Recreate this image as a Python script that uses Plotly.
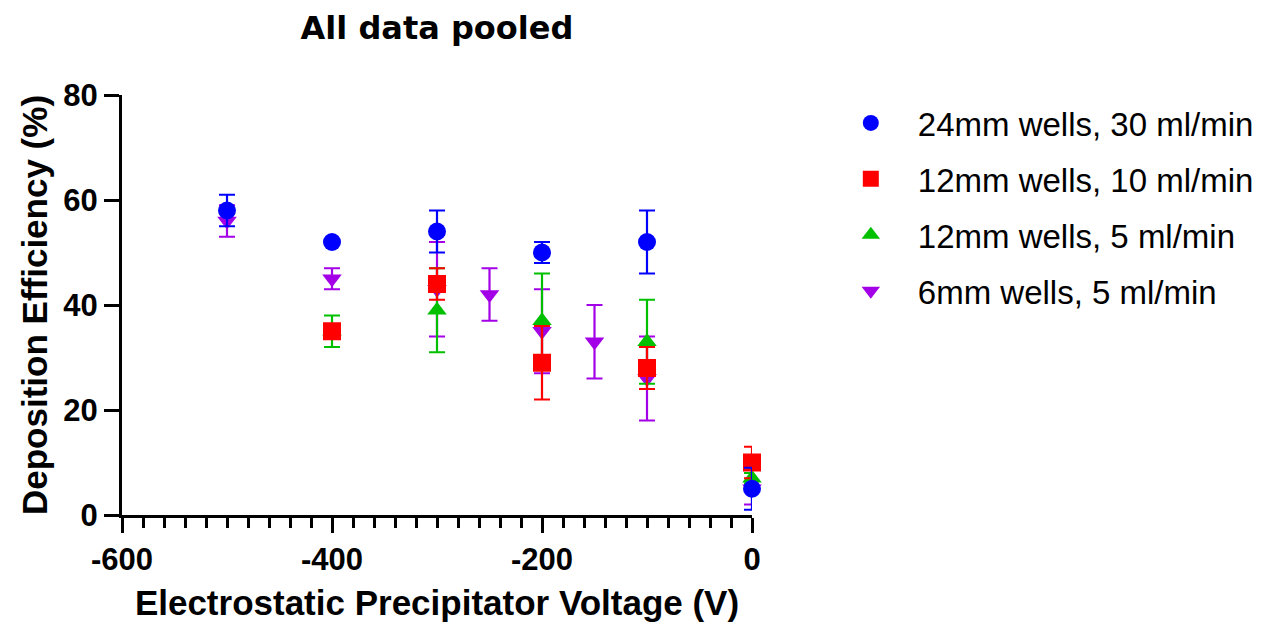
import plotly.graph_objects as go

# ---- data ----
voltage_24_30 = [-500, -400, -300, -200, -100, 0]
eff_24_30 = [58, 52, 54, 50, 52, 5]
err_24_30 = [3, 0, 4, 2, 6, 4]

voltage_12_10 = [-400, -300, -200, -100, 0]
eff_12_10 = [35, 44, 29, 28, 10]
err_12_10 = [1, 3, 7, 4, 3]

voltage_12_5 = [-400, -300, -200, -100, 0]
eff_12_5 = [35, 39, 37, 33, 7]
err_12_5 = [3, 8, 9, 8, 1]

voltage_6_5 = [-500, -400, -300, -250, -200, -150, -100, 0]
eff_6_5 = [56, 45, 43, 42, 35, 33, 26, 5]
err_6_5 = [3, 2, 9, 5, 8, 7, 8, 3]

series_names = ["24mm wells, 30 ml/min", "12mm wells, 10 ml/min",
                "12mm wells, 5 ml/min", "6mm wells, 5 ml/min"]
x_ticks = [-600, -400, -200, 0]
y_ticks = [0, 20, 40, 60, 80]

BLUE = "#0000FF"
RED = "#FF0000"
GREEN = "#00C000"
PURPLE = "#A300E8"

fig = go.Figure()

def add(x, y, e, name, color, symbol, size, rank):
    fig.add_trace(go.Scatter(
        x=x, y=y, mode="markers", name=name, legendgroup=name, legendrank=rank,
        marker=dict(color=color, symbol=symbol, size=size, line=dict(width=0)),
        error_y=dict(type="data", array=e, visible=True, color=color,
                     thickness=2.2, width=8),
        cliponaxis=False,
    ))

# drawing order bottom -> top: purple, green, red, blue
add(voltage_6_5, eff_6_5, err_6_5, series_names[3], PURPLE, "triangle-down", 17, 4)
add(voltage_12_5, eff_12_5, err_12_5, series_names[2], GREEN, "triangle-up", 17, 3)
add(voltage_12_10, eff_12_10, err_12_10, series_names[1], RED, "square", 18, 2)
add(voltage_24_30, eff_24_30, err_24_30, series_names[0], BLUE, "circle", 18, 1)

tick_font = dict(family="Liberation Sans", size=31, color="black")

fig.update_layout(
    width=1268, height=625,
    margin=dict(l=122, r=516, t=95, b=110, autoexpand=False),
    paper_bgcolor="white", plot_bgcolor="white",
    title=dict(text="<b>All data pooled</b>", x=(122 + 630 / 2) / 1268, xanchor="center",
               xref="container", y=1 - 28 / 625, yanchor="middle", yref="container",
               font=dict(family="DejaVu Sans", size=32, color="black")),
    showlegend=True,
    legend=dict(x=1.114, xanchor="left", y=1.0, yanchor="top",
                traceorder="grouped", tracegroupgap=10, itemwidth=84,
                font=dict(family="Liberation Sans", size=33, color="black"),
                bgcolor="rgba(0,0,0,0)"),
    xaxis=dict(range=[-600, 0], tickvals=x_ticks, ticktext=[f"<b>{v}</b>" for v in x_ticks],
               showgrid=False, zeroline=False, showline=True, linewidth=3, linecolor="black",
               ticks="outside", ticklen=15, tickwidth=3, tickcolor="black",
               tickfont=tick_font,
               minor=dict(dtick=20, ticks="outside", ticklen=10, tickwidth=3, tickcolor="black"),
               title=dict(text="<b>Electrostatic Precipitator Voltage (V)</b>",
                          font=dict(family="Liberation Sans", size=35, color="black"),
                          standoff=15)),
    yaxis=dict(range=[0, 80], tickvals=y_ticks, ticktext=[f"<b>{v}</b>" for v in y_ticks],
               showgrid=False, zeroline=False, showline=True, linewidth=3, linecolor="black",
               ticks="outside", ticklen=15, tickwidth=3, tickcolor="black",
               tickfont=tick_font,
               title=dict(text="<b>Deposition Efficiency (%)</b>",
                          font=dict(family="Liberation Sans", size=35, color="black"),
                          standoff=6)),
)

fig.write_html("out.html")
